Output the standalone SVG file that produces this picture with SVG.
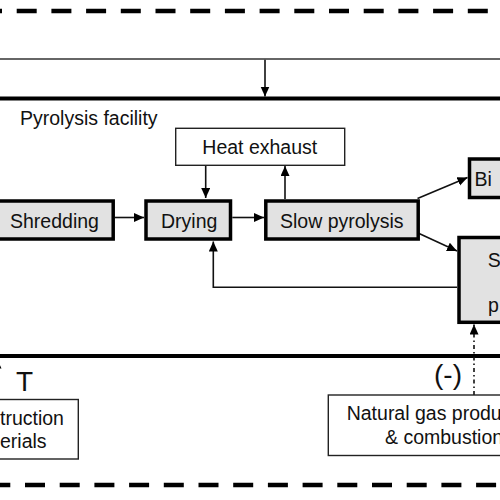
<svg xmlns="http://www.w3.org/2000/svg" width="500" height="500" viewBox="0 0 500 500">
<style>
text{font-family:"Liberation Sans",Arial,sans-serif;fill:#111}
.t{font-size:19.5px}
.big{font-size:28px}
.proc{fill:#e2e2e2;stroke:#000;stroke-width:3.5}
.ext{fill:#fff;stroke:#222;stroke-width:1.4}
.ln{fill:none;stroke:#111;stroke-width:1.6}
.dash{fill:none;stroke:#000;stroke-width:4.5;stroke-dasharray:20 14.7}
</style>
<defs>
<marker id="ah" markerUnits="userSpaceOnUse" markerWidth="12" markerHeight="10" refX="10" refY="4.5" orient="auto">
<path d="M0,0 L10,4.5 L0,9 Z" fill="#000"/>
</marker>
</defs>
<g id="boundaries">
<line class="dash" x1="0" y1="11" x2="500" y2="11" stroke-dashoffset="18"/>
<line class="dash" x1="0" y1="485" x2="500" y2="485" stroke-dashoffset="9.7"/>
<line x1="0" y1="59" x2="500" y2="59" stroke="#333" stroke-width="1.6"/>
<line x1="0" y1="98.5" x2="500" y2="98.5" stroke="#000" stroke-width="4"/>
<line x1="0" y1="356" x2="500" y2="356" stroke="#000" stroke-width="4"/>
<text class="t" x="20" y="125">Pyrolysis facility</text>
<text class="big" x="16" y="391">T</text>
<text class="big" x="434" y="384">(-)</text>
</g>
<g id="connectors">
<line class="ln" x1="265" y1="59.8" x2="265" y2="96.5" marker-end="url(#ah)"/>
<line class="ln" x1="115" y1="217.5" x2="144" y2="217.5" marker-end="url(#ah)"/>
<line class="ln" x1="232.3" y1="217.5" x2="264" y2="217.5" marker-end="url(#ah)"/>
<line class="ln" x1="205.7" y1="165.3" x2="205.7" y2="198" marker-end="url(#ah)"/>
<line class="ln" x1="285" y1="199" x2="285" y2="166" marker-end="url(#ah)"/>
<line class="ln" x1="417.5" y1="198.5" x2="467.5" y2="177.5" marker-end="url(#ah)"/>
<line class="ln" x1="418" y1="233" x2="457" y2="251" marker-end="url(#ah)"/>
<polyline class="ln" points="457,287.3 213.3,287.3 213.3,241.5" marker-end="url(#ah)"/>
<line class="ln" x1="474" y1="395" x2="474" y2="324.5" stroke-dasharray="4 3 1.5 3" marker-end="url(#ah)"/>
<line class="ln" x1="-3" y1="399" x2="-3" y2="358.5" marker-end="url(#ah)"/>
</g>
<g id="heat-exhaust">
<rect class="ext" x="175.7" y="128.3" width="169" height="37"/>
<text class="t" x="202.3" y="154">Heat exhaust</text>
</g>
<g id="shredding">
<rect class="proc" x="-10" y="201" width="123.2" height="38"/>
<text class="t" x="10" y="228">Shredding</text>
</g>
<g id="drying">
<rect class="proc" x="146" y="201" width="84.5" height="38"/>
<text class="t" x="161" y="228">Drying</text>
</g>
<g id="slow-pyrolysis">
<rect class="proc" x="265.8" y="201" width="152.4" height="38"/>
<text class="t" x="280" y="228">Slow pyrolysis</text>
</g>
<g id="biochar">
<rect class="proc" x="469.5" y="159" width="70" height="38.5"/>
<text class="t" x="474.5" y="185.7">Bi</text>
</g>
<g id="syngas">
<rect class="proc" x="459" y="237.5" width="70" height="84.8"/>
<text class="t" x="487.7" y="266.7">S</text>
<text class="t" x="488" y="311.7">p</text>
</g>
<g id="construction-materials">
<rect class="ext" x="-10" y="399.5" width="88.3" height="59.5"/>
<text class="t" x="0" y="425">truction</text>
<text class="t" x="0" y="448.3">erials</text>
</g>
<g id="natural-gas">
<rect class="ext" x="328.3" y="395" width="190" height="60.5"/>
<text class="t" x="346.7" y="420">Natural gas produ</text>
<text class="t" x="385" y="444.3">&amp; combustion</text>
</g>
</svg>
